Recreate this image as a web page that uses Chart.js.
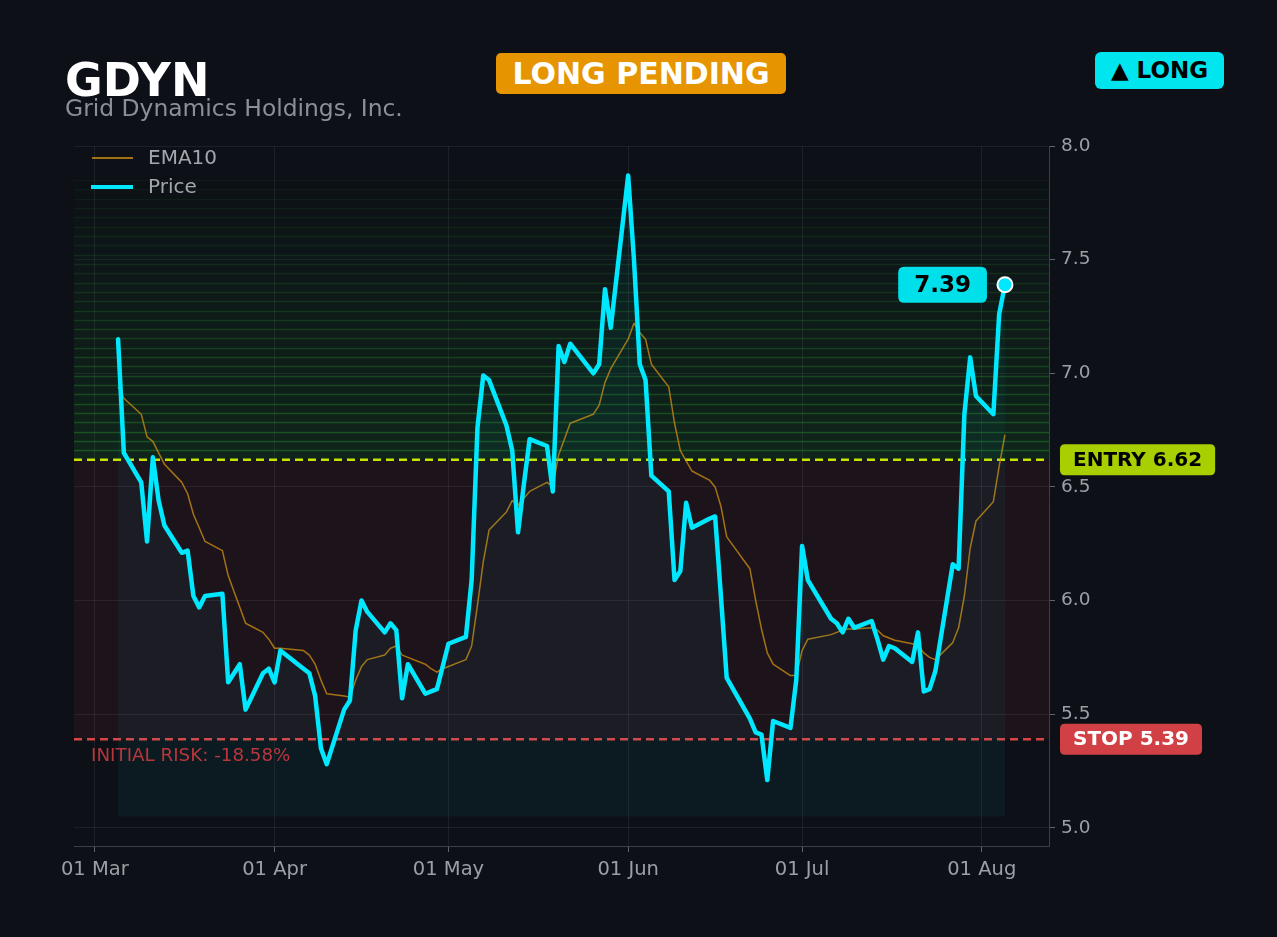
<!DOCTYPE html>
<html><head><meta charset="utf-8">
<script src="https://cdn.jsdelivr.net/npm/chart.js@4.4.1/dist/chart.umd.min.js"></script>
<style>
html,body{margin:0;padding:0;background:#0d1117;width:1277px;height:937px;overflow:hidden;font-family:"DejaVu Sans",sans-serif;}
#wrap{position:relative;width:1277px;height:937px;}
canvas{position:absolute;left:0;top:0;}
.t{position:absolute;white-space:nowrap;line-height:1;}
.badge{position:absolute;display:flex;align-items:center;justify-content:center;border-radius:5px;font-weight:bold;white-space:nowrap;line-height:1;}
</style></head><body>
<div id="wrap">
<canvas id="c" width="1277" height="937" style="width:1277px;height:937px"></canvas>
<div class="t" style="left:65px;top:57px;font-size:46px;font-weight:bold;color:#ffffff;">GDYN</div>
<div class="t" style="left:65px;top:97px;font-size:23.4px;color:#8b9098;">Grid Dynamics Holdings, Inc.</div>
<div class="badge" style="left:496px;top:53px;width:290px;height:41px;background:#e69500;color:#ffffff;font-size:30px;">LONG PENDING</div>
<div class="badge" style="left:1095px;top:52px;width:129px;height:37px;background:#00e5ee;color:#000000;font-size:23px;border-radius:6px;">▲ LONG</div>
</div>
<script>
const dates = [
 '2026-03-05','2026-03-06','2026-03-09','2026-03-10','2026-03-11','2026-03-12','2026-03-13',
 '2026-03-16','2026-03-17','2026-03-18','2026-03-19','2026-03-20','2026-03-23','2026-03-24',
 '2026-03-25','2026-03-26','2026-03-27','2026-03-30','2026-03-31','2026-04-01','2026-04-02',
 '2026-04-06','2026-04-07','2026-04-08','2026-04-09','2026-04-10','2026-04-13','2026-04-14',
 '2026-04-15','2026-04-16','2026-04-17','2026-04-20','2026-04-21','2026-04-22','2026-04-23',
 '2026-04-24','2026-04-27','2026-04-28','2026-04-29','2026-04-30','2026-05-01','2026-05-04',
 '2026-05-05','2026-05-06','2026-05-07','2026-05-08','2026-05-11','2026-05-12','2026-05-13',
 '2026-05-14','2026-05-15','2026-05-18','2026-05-19','2026-05-20','2026-05-21','2026-05-22',
 '2026-05-26','2026-05-27','2026-05-28','2026-05-29','2026-06-01','2026-06-02','2026-06-03',
 '2026-06-04','2026-06-05','2026-06-08','2026-06-09','2026-06-10','2026-06-11','2026-06-12',
 '2026-06-15','2026-06-16','2026-06-17','2026-06-18','2026-06-22','2026-06-23','2026-06-24',
 '2026-06-25','2026-06-26','2026-06-29','2026-06-30','2026-07-01','2026-07-02','2026-07-06',
 '2026-07-07','2026-07-08','2026-07-09','2026-07-10','2026-07-13','2026-07-14','2026-07-15',
 '2026-07-16','2026-07-17','2026-07-20','2026-07-21','2026-07-22','2026-07-23','2026-07-24',
 '2026-07-27','2026-07-28','2026-07-29','2026-07-30','2026-07-31','2026-08-03','2026-08-04',
 '2026-08-05'
];
const price = [
 7.15,6.65,6.52,6.26,6.63,6.44,6.33,
 6.21,6.22,6.02,5.97,6.02,6.03,5.64,
 5.68,5.72,5.52,5.68,5.70,5.64,5.78,
 5.70,5.68,5.58,5.35,5.28,5.52,5.56,
 5.87,6.00,5.95,5.86,5.90,5.87,5.57,
 5.72,5.59,5.60,5.61,5.71,5.81,5.84,
 6.09,6.76,6.99,6.97,6.77,6.66,6.30,
 6.51,6.71,6.68,6.48,7.12,7.05,7.13,
 7.00,7.04,7.37,7.20,7.87,7.50,7.04,
 6.97,6.55,6.48,6.09,6.13,6.43,6.32,
 6.36,6.37,6.02,5.66,5.48,5.42,5.41,
 5.21,5.47,5.44,5.65,6.24,6.09,5.92,
 5.90,5.86,5.92,5.88,5.91,5.83,5.74,
 5.80,5.79,5.73,5.86,5.60,5.61,5.69,
 6.16,6.14,6.82,7.07,6.90,6.82,7.26,
 7.39
];
const ema10 = [
 6.94,6.89,6.82,6.72,6.70,6.65,6.60,
 6.52,6.47,6.38,6.32,6.26,6.22,6.11,
 6.04,5.97,5.90,5.86,5.83,5.79,5.79,
 5.78,5.76,5.72,5.65,5.59,5.58,5.575,
 5.65,5.71,5.74,5.76,5.79,5.80,5.76,
 5.75,5.72,5.70,5.685,5.70,5.71,5.74,
 5.80,5.98,6.17,6.31,6.39,6.44,6.42,
 6.45,6.48,6.52,6.50,6.64,6.71,6.78,
 6.82,6.86,6.96,7.02,7.15,7.22,7.18,
 7.15,7.04,6.94,6.78,6.66,6.615,6.57,
 6.53,6.50,6.415,6.28,6.14,6.00,5.875,
 5.77,5.72,5.67,5.67,5.78,5.83,5.85,
 5.86,5.87,5.875,5.875,5.88,5.87,5.845,
 5.835,5.825,5.81,5.805,5.77,5.75,5.74,
 5.815,5.88,6.02,6.23,6.35,6.435,6.59,
 6.73
];
const monthTickDates = ['2026-03-01','2026-04-01','2026-05-01','2026-06-01','2026-07-01','2026-08-01'];
const monthTickLabels = ['01 Mar','01 Apr','01 May','01 Jun','01 Jul','01 Aug'];
const yTicks = [5.0,5.5,6.0,6.5,7.0,7.5,8.0];
const entryPrice = 6.62;
const stopPrice = 5.39;
const fillBase = 5.05;

const ORIGIN = Date.UTC(2026,2,1);
function dayOf(s){const p=s.split('-').map(Number);return (Date.UTC(p[0],p[1]-1,p[2])-ORIGIN)/86400000;}
const xs = dates.map(dayOf);
const monthTickVals = monthTickDates.map(dayOf);
const pricePts = xs.map((x,i)=>({x:x,y:price[i]}));
const emaPts = xs.map((x,i)=>({x:x,y:ema10[i]}));
const targetPrice = entryPrice + (entryPrice - stopPrice);
const lastIdx = price.length - 1;

const CYAN = '#00e8ff';
const EMA_COL = 'rgba(200,138,18,0.8)';
const FONT = '"DejaVu Sans", sans-serif';

function rr(ctx,x,y,w,h,r){ctx.beginPath();ctx.moveTo(x+r,y);ctx.lineTo(x+w-r,y);ctx.quadraticCurveTo(x+w,y,x+w,y+r);ctx.lineTo(x+w,y+h-r);ctx.quadraticCurveTo(x+w,y+h,x+w-r,y+h);ctx.lineTo(x+r,y+h);ctx.quadraticCurveTo(x,y+h,x,y+h-r);ctx.lineTo(x,y+r);ctx.quadraticCurveTo(x,y,x+r,y);ctx.closePath();}

const zonesPlugin = {
  id:'zones',
  beforeDraw(chart){
    const {ctx, chartArea:a, scales:{y}} = chart;
    ctx.save();
    ctx.beginPath(); ctx.rect(a.left,a.top,a.right-a.left,a.bottom-a.top); ctx.clip();
    const ye = y.getPixelForValue(entryPrice), ys = y.getPixelForValue(stopPrice);
    ctx.fillStyle = 'rgba(230,70,80,0.08)';
    ctx.fillRect(a.left, ye, a.right-a.left, ys-ye);
    const N = 30, step = (targetPrice-entryPrice)/N;
    for(let i=0;i<N;i++){
      const v0 = entryPrice + i*step, v1 = v0 + step;
      const p0 = y.getPixelForValue(v0), p1 = y.getPixelForValue(v1);
      const f = 1 - i/N;
      ctx.fillStyle = 'rgba(40,200,60,'+(0.11*f).toFixed(4)+')';
      ctx.fillRect(a.left, p1, a.right-a.left, p0-p1);
      ctx.strokeStyle = 'rgba(60,200,60,'+(0.04+0.26*f).toFixed(4)+')';
      ctx.lineWidth = 1.5;
      ctx.beginPath(); ctx.moveTo(a.left, Math.round(p1)+0.5); ctx.lineTo(a.right, Math.round(p1)+0.5); ctx.stroke();
    }
    ctx.restore();
  },
  beforeDatasetsDraw(chart){
    const {ctx, chartArea:a, scales:{y}} = chart;
    ctx.save();
    ctx.lineWidth = 2.5;
    ctx.setLineDash([8,5]);
    const ye = y.getPixelForValue(entryPrice), ys = y.getPixelForValue(stopPrice);
    ctx.strokeStyle = '#c8e400';
    ctx.beginPath(); ctx.moveTo(a.left, ye); ctx.lineTo(a.right, ye); ctx.stroke();
    ctx.strokeStyle = '#d84545';
    ctx.beginPath(); ctx.moveTo(a.left, ys); ctx.lineTo(a.right, ys); ctx.stroke();
    ctx.restore();
  },
  afterDraw(chart){
    const {ctx, chartArea:a, scales:{x,y}} = chart;
    ctx.save();
    const ye = y.getPixelForValue(entryPrice), ys = y.getPixelForValue(stopPrice);
    ctx.textBaseline = 'middle';
    ctx.textAlign = 'center';
    ctx.font = 'bold 20px '+FONT;
    let t = 'ENTRY '+entryPrice.toFixed(2);
    let w = ctx.measureText(t).width + 26;
    rr(ctx, a.right+11, ye-15.5, w, 31, 5); ctx.fillStyle = '#a8d000'; ctx.fill();
    ctx.fillStyle = '#000'; ctx.fillText(t, a.right+11+w/2, ye+1);
    t = 'STOP '+stopPrice.toFixed(2);
    w = ctx.measureText(t).width + 26;
    rr(ctx, a.right+11, ys-15.5, w, 31, 5); ctx.fillStyle = '#d04045'; ctx.fill();
    ctx.fillStyle = '#fff'; ctx.fillText(t, a.right+11+w/2, ys+1);
    const px = x.getPixelForValue(xs[lastIdx]), py = y.getPixelForValue(price[lastIdx]);
    ctx.font = 'bold 23px '+FONT;
    t = price[lastIdx].toFixed(2);
    w = ctx.measureText(t).width + 32;
    rr(ctx, px-18-w, py-18, w, 36, 6); ctx.fillStyle = '#00e0ea'; ctx.fill();
    ctx.fillStyle = '#000'; ctx.fillText(t, px-18-w/2, py+1);
    ctx.textAlign = 'left';
    ctx.font = '18.3px '+FONT;
    ctx.fillStyle = 'rgba(215,60,66,0.85)';
    const risk = (stopPrice-entryPrice)/entryPrice*100;
    ctx.fillText('INITIAL RISK: '+risk.toFixed(2)+'%', a.left+17, ys+17);
    ctx.font = '20px '+FONT;
    ctx.fillStyle = '#a3a7ad';
    ctx.setLineDash([]);
    ctx.strokeStyle = EMA_COL; ctx.lineWidth = 2;
    ctx.beginPath(); ctx.moveTo(a.left+18, a.top+12); ctx.lineTo(a.left+59, a.top+12); ctx.stroke();
    ctx.fillText('EMA10', a.left+74, a.top+13);
    ctx.strokeStyle = CYAN; ctx.lineWidth = 4;
    ctx.beginPath(); ctx.moveTo(a.left+17, a.top+41); ctx.lineTo(a.left+59, a.top+41); ctx.stroke();
    ctx.fillText('Price', a.left+74, a.top+42);
    ctx.restore();
  }
};

new Chart(document.getElementById('c'), {
  type:'line',
  data:{datasets:[
    {label:'Price', data:pricePts, borderColor:CYAN, borderWidth:4.5, tension:0, borderJoinStyle:'round', borderCapStyle:'round',
     fill:{value:fillBase}, backgroundColor:'rgba(0,229,255,0.045)',
     pointRadius:(c)=>c.dataIndex===lastIdx?7.5:0, pointHoverRadius:0,
     pointBackgroundColor:CYAN, pointBorderColor:'#ffffff', pointBorderWidth:2},
    {label:'EMA10', data:emaPts, borderColor:EMA_COL, borderWidth:1.5, tension:0, borderJoinStyle:'round', fill:false, pointRadius:0}
  ]},
  options:{
    responsive:false, animation:false, devicePixelRatio:1,
    layout:{padding:{left:74, top:146, right:0, bottom:0}},
    plugins:{legend:{display:false}, tooltip:{enabled:false}},
    scales:{
      x:{type:'linear', min:-3.6, max:164.6,
        afterBuildTicks:(s)=>{s.ticks = monthTickVals.map(v=>({value:v}));},
        afterFit:(s)=>{s.height = 91;},
        ticks:{autoSkip:false, maxRotation:0, padding:6, color:'#9aa0a6', font:{family:FONT, size:19.5},
          callback:(v)=>{const i=monthTickVals.indexOf(v);return i>=0?monthTickLabels[i]:'';}},
        grid:{color:'rgba(255,255,255,0.065)', tickColor:'rgba(255,255,255,0.35)', tickLength:6},
        border:{display:true, color:'#3a3e45'}
      },
      y:{type:'linear', position:'right', min:4.92, max:8.0,
        afterBuildTicks:(s)=>{s.ticks = yTicks.map(v=>({value:v}));},
        afterFit:(s)=>{s.width = 228;},
        ticks:{padding:6, color:'#9aa0a6', font:{family:FONT, size:18.5}, callback:(v)=>Number(v).toFixed(1)},
        grid:{color:'rgba(255,255,255,0.065)', tickColor:'rgba(255,255,255,0.35)', tickLength:6},
        border:{display:true, color:'#3a3e45'}
      }
    }
  },
  plugins:[zonesPlugin]
});
</script>
</body></html>
